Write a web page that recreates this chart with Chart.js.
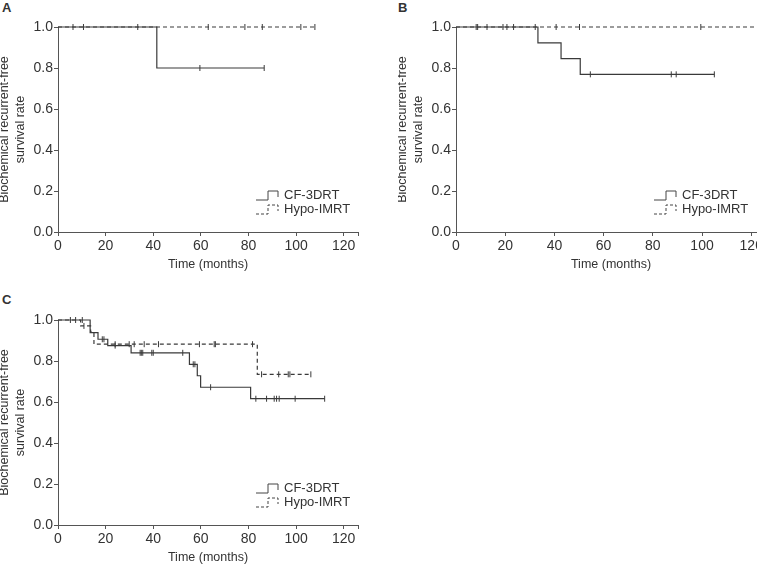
<!DOCTYPE html>
<html>
<head>
<meta charset="utf-8">
<script src="https://cdn.jsdelivr.net/npm/chart.js@4/dist/chart.umd.min.js"></script>
<style>
    html, body { margin: 0; padding: 0; background: #fff; overflow: hidden; }
    body { width: 757px; height: 565px; position: relative; }
    .panel { position: absolute; }
    .letter { position: absolute; font: bold 13px 'Liberation Sans', Arial, sans-serif; color: #333; }
</style>
</head>
<body>
<div class="letter" style="left:2px;top:0px;">A</div>
<div class="letter" style="left:398px;top:0px;">B</div>
<div class="letter" style="left:2px;top:292px;">C</div>
<div class="panel" style="left:0px;top:0px;width:378px;height:275px;"><canvas id="chart-a"></canvas></div>
<div class="panel" style="left:398px;top:0px;width:388px;height:275px;"><canvas id="chart-b"></canvas></div>
<div class="panel" style="left:0px;top:293px;width:378px;height:275px;"><canvas id="chart-c"></canvas></div>
<script>
// time axis ticks (months) and survival axis ticks
const xTickValues = [0, 20, 40, 60, 80, 100, 120, 126];
const yTickValues = [0, 0.2, 0.4, 0.6, 0.8, 1.0];
const seriesNames = ['CF-3DRT', 'Hypo-IMRT'];

// Panel A
const aCfTime = [0, 41.5, 86.6];
const aCfRate = [1, 0.8, 0.8];
const aCfCensor = [59.6, 86.6];
const aHypoTime = [0, 107.9];
const aHypoRate = [1, 1];
const aHypoCensor = [6.3, 10.7, 33.5, 63.1, 78.5, 85.8, 102, 107.9];

// Panel B
const bCfTime = [0, 33.3, 42.7, 50.5, 105];
const bCfRate = [1, 0.923, 0.846, 0.769, 0.769];
const bCfCensor = [54.6, 87.5, 89.5, 105];
const bHypoTime = [0, 125];
const bHypoRate = [1, 1];
const bHypoCensor = [8.2, 8.8, 12.6, 19.1, 20.7, 23.4, 32.2, 40.7, 50.2, 99.5];

// Panel C
const cCfTime = [0, 13.5, 16.8, 20.9, 30.7, 55.2, 58.5, 59.9, 80.9, 112];
const cCfRate = [1, 0.938, 0.906, 0.875, 0.84, 0.784, 0.728, 0.672, 0.616, 0.616];
const cCfCensor = [5.2, 7.4, 10.2, 18.6, 19.3, 24, 34.5, 35, 35.6, 39.4, 40, 52.4, 56.8, 57.5, 64.1, 83.1, 87.6, 90.8, 91.8, 92.9, 99.6, 112];
const cHypoTime = [0, 9.5, 13.7, 15.1, 83.7, 106.2];
const cHypoRate = [1, 0.971, 0.941, 0.882, 0.735, 0.735];
const cHypoCensor = [10.9, 24, 29.9, 32, 36.2, 42.2, 59.4, 65.6, 66.1, 81.7, 85.5, 92.7, 96.7, 97.4, 106.2];

const FONT = "'Liberation Sans', Arial, sans-serif";
const INK = '#333';
const AXIS = '#555';

// survival value at time t (last step at or before t)
function rateAt(times, rates, t) {
    let r = rates[0];
    for (let i = 0; i < times.length; i++) {
        if (times[i] <= t) r = rates[i];
    }
    return r;
}

const stepLegend = {
    id: 'stepLegend',
    afterDraw(chart) {
        const { ctx, chartArea } = chart;
        const x0 = chartArea.left + 198;
        const rows = [chartArea.top + 168, chartArea.top + 182];
        ctx.save();
        ctx.strokeStyle = '#444';
        ctx.lineWidth = 1;
        ctx.font = '13px ' + FONT;
        ctx.fillStyle = INK;
        ctx.textBaseline = 'middle';
        rows.forEach((y, i) => {
            ctx.setLineDash(i === 1 ? [3, 2] : []);
            ctx.beginPath();
            ctx.moveTo(x0, y + 5);
            ctx.lineTo(x0 + 12, y + 5);
            ctx.lineTo(x0 + 12, y - 4);
            ctx.lineTo(x0 + 22, y - 4);
            ctx.lineTo(x0 + 22, y + 2);
            ctx.stroke();
            ctx.fillText(seriesNames[i], x0 + 28, y);
        });
        ctx.restore();
    }
};

function makePanel(id, cfTime, cfRate, cfCensor, hypoTime, hypoRate, hypoCensor) {
    const pts = (times, rates) => times.map((t, i) => ({ x: t, y: rates[i] }));
    const marks = (cens, times, rates) => cens.map(t => ({ x: t, y: rateAt(times, rates, t) }));

    return new Chart(document.getElementById(id), {
        type: 'line',
        data: {
            datasets: [
                {
                    label: seriesNames[0],
                    data: pts(cfTime, cfRate),
                    stepped: true,
                    borderColor: '#3a3a3a',
                    borderWidth: 1.2,
                    pointRadius: 0,
                    clip: false
                },
                {
                    label: seriesNames[1],
                    data: pts(hypoTime, hypoRate),
                    stepped: true,
                    borderColor: '#3a3a3a',
                    borderWidth: 1.2,
                    borderDash: [4, 3],
                    pointRadius: 0,
                    clip: false
                },
                {
                    type: 'scatter',
                    data: marks(cfCensor, cfTime, cfRate),
                    pointStyle: 'line',
                    rotation: 90,
                    radius: 3,
                    borderColor: '#3a3a3a',
                    borderWidth: 1,
                    clip: false
                },
                {
                    type: 'scatter',
                    data: marks(hypoCensor, hypoTime, hypoRate),
                    pointStyle: 'line',
                    rotation: 90,
                    radius: 3,
                    borderColor: '#3a3a3a',
                    borderWidth: 1,
                    clip: false
                }
            ]
        },
        options: {
            responsive: true,
            maintainAspectRatio: false,
            animation: false,
            events: [],
            layout: { padding: { top: 27, right: 20, left: 0, bottom: 0 } },
            plugins: { legend: { display: false }, tooltip: { enabled: false } },
            scales: {
                x: {
                    type: 'linear',
                    min: 0,
                    max: 126,
                    afterBuildTicks: (scale) => { scale.ticks = xTickValues.map(v => ({ value: v })); },
                    afterFit: (scale) => { scale.height = 43; },
                    ticks: {
                        color: INK,
                        font: { family: FONT, size: 14 },
                        padding: 2,
                        maxRotation: 0,
                        autoSkip: false,
                        callback: (v) => (v > 120 ? '' : v)
                    },
                    grid: { drawOnChartArea: false, drawTicks: true, tickLength: 4, color: AXIS },
                    border: { display: true, color: AXIS },
                    title: {
                        display: true,
                        text: 'Time (months)',
                        color: INK,
                        font: { family: FONT, size: 12.5 },
                        padding: { top: 0, bottom: 3 }
                    }
                },
                y: {
                    min: 0,
                    max: 1,
                    afterBuildTicks: (scale) => { scale.ticks = yTickValues.map(v => ({ value: v })); },
                    afterFit: (scale) => { scale.width = 58; },
                    ticks: {
                        color: INK,
                        font: { family: FONT, size: 14 },
                        padding: 1,
                        callback: (v) => v.toFixed(1)
                    },
                    grid: { drawOnChartArea: false, drawTicks: true, tickLength: 4, color: AXIS },
                    border: { display: true, color: AXIS },
                    title: {
                        display: true,
                        text: ['Biochemical recurrent-free', 'survival rate'],
                        color: INK,
                        font: { family: FONT, size: 12.5, lineHeight: 1.25 },
                        padding: { top: -3, bottom: 0 }
                    }
                }
            }
        },
        plugins: [stepLegend]
    });
}

makePanel('chart-a', aCfTime, aCfRate, aCfCensor, aHypoTime, aHypoRate, aHypoCensor);
makePanel('chart-b', bCfTime, bCfRate, bCfCensor, bHypoTime, bHypoRate, bHypoCensor);
makePanel('chart-c', cCfTime, cCfRate, cCfCensor, cHypoTime, cHypoRate, cHypoCensor);
</script>
</body>
</html>
